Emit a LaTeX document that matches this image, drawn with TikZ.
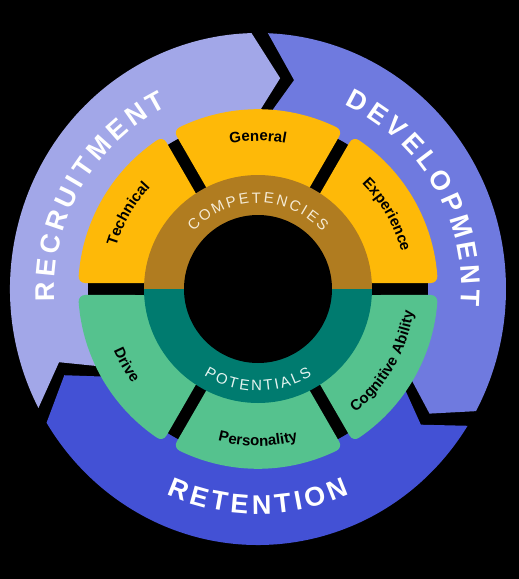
\documentclass[tikz,border=0pt]{standalone}
\usepackage{fontspec}
\setmainfont{Liberation Sans}
\newfontfamily\ringfont[WordSpace=0.45]{Liberation Sans}
\newfontfamily\segfont{Liberation Sans}
\newfontfamily\corefont[WordSpace=0.55]{Liberation Sans}
\usetikzlibrary{calc,decorations.text}
\definecolor{recr}{HTML}{A2A7E8}
\definecolor{devel}{HTML}{6F7ADF}
\definecolor{reten}{HTML}{4351D5}
\definecolor{gold}{HTML}{FEB908}
\definecolor{mint}{HTML}{55C28E}
\definecolor{bronze}{HTML}{B07C20}
\definecolor{deepteal}{HTML}{007B6F}
\definecolor{cream}{HTML}{F5EBD5}
\definecolor{paleteal}{HTML}{E4F4F0}
% outer ring: ellipse radii 248 x 256
\newcommand\ringarrow[3]{%
  \fill[#3] ({#1+7.5}:248pt and 256pt) arc[start angle={#1+7.5}, end angle={#2+7.5}, x radius=248pt, y radius=256pt]
    -- (#2:212pt) -- ({#2+9.5}:160pt)
    arc[start angle={#2+9.5}, end angle={#1+9.5}, radius=160pt]
    -- (#1:212pt) -- cycle;}
\newcommand\segment[3]{%
  \fill[#3, rounded corners=7pt] ($(#1:100pt)+({#1-90}:6pt)$)
    -- plot[domain=#1-1.91:#2+1.91, samples=11] (\x:180pt)
    -- ($(#2:100pt)+({#2+90}:6pt)$) -- cycle;}
\tikzset{
  arctext/.style={decorate, decoration={text along path, text align=center, text={#1}}},
}
\newcommand\ringstyle{\ringfont\bfseries\fontsize{27}{30}\selectfont\color{white}}
\newcommand\segstyle{\segfont\bfseries\fontsize{15}{17}\selectfont\color{black}}
\newcommand\wordgap{\hspace*{5pt}}
\begin{document}
\begin{tikzpicture}
\coordinate (c) at (0,0);
\fill[black] (-258pt,-290pt) rectangle (261pt,289pt);
\useasboundingbox (-258pt,-290pt) rectangle (261pt,289pt);
% outer ring arrows
\ringarrow{200.2}{84}{recr}
\ringarrow{80.2}{-36}{devel}
\ringarrow{-39.8}{-156}{reten}
\fill[black] (c) circle[radius=170pt];
% segments
\segment{180}{120}{gold}
\segment{120}{60}{gold}
\segment{60}{0}{gold}
\segment{0}{-60}{mint}
\segment{-60}{-120}{mint}
\segment{-120}{-180}{mint}
% core ring
\fill[bronze] (114pt,0pt) arc[start angle=0, end angle=180, radius=114pt] -- cycle;
\fill[deepteal] (-114pt,0pt) arc[start angle=180, end angle=360, radius=114pt] -- cycle;
\fill[black] (c) circle[radius=74pt];
% ring texts
\path[arctext={|\ringstyle|R E C R U I T M E N T}]
  (210:203.5pt) arc[start angle=210, end angle=90, radius=203.5pt];
\path[arctext={|\ringstyle|D E V E L O P M E N T}]
  (90:203.5pt) arc[start angle=90, end angle=-30, radius=203.5pt];
\path[arctext={|\ringstyle|R E T E N T I O N}]
  (210:225pt) arc[start angle=210, end angle=330, radius=225pt];
% segment texts
\path[arctext={|\segstyle|General}]
  (130:148pt) arc[start angle=130, end angle=50, radius=148pt];
\path[arctext={|\segstyle|Technical}]
  (190:148pt) arc[start angle=190, end angle=110, radius=148pt];
\path[arctext={|\segstyle|Experience}]
  (70:148pt) arc[start angle=70, end angle=-10, radius=148pt];
\path[arctext={|\segstyle|Drive}]
  (170:157pt) arc[start angle=170, end angle=250, radius=157pt];
\path[arctext={|\segstyle|Personality}]
  (230:157pt) arc[start angle=230, end angle=310, radius=157pt];
\path[arctext={|\segstyle|Cognitive{\wordgap}Ability}]
  (290:157pt) arc[start angle=290, end angle=370, radius=157pt];
% core texts
\path[arctext={|\corefont\fontsize{15}{17}\selectfont\color{cream}|C O M P E T E N C I E S}]
  (160:86pt) arc[start angle=160, end angle=20, radius=86pt];
\path[arctext={|\corefont\fontsize{15}{17}\selectfont\color{paleteal}|P O T E N T I A L S}]
  (200:102pt) arc[start angle=200, end angle=340, radius=102pt];
\end{tikzpicture}
\end{document}
